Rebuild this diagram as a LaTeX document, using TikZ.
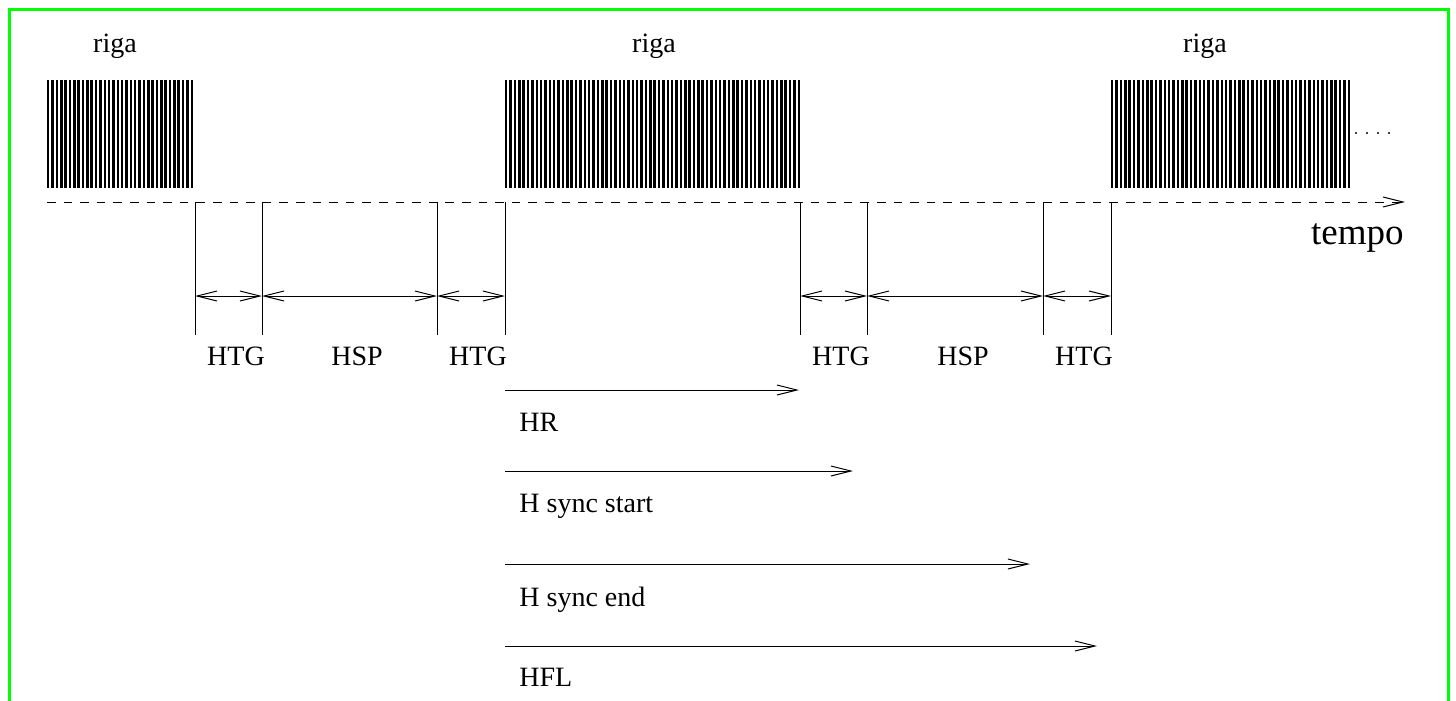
\documentclass[tikz,border=0pt]{standalone}
\usepackage{fontspec}
\setmainfont{Liberation Serif}
\usetikzlibrary{arrows.meta}
\definecolor{framegreen}{RGB}{0,255,0}

\begin{document}
\begin{tikzpicture}[x=0.5pt, y=-0.5pt,
    barb/.style={line width=0.5pt, arrows={-Straight Barb[length=10pt, width=5pt]}},
    dimline/.style={line width=0.5pt, arrows={Straight Barb[length=10pt, width=5pt]-Straight Barb[length=10pt, width=5pt]}},
    stripe/.style={line width=1.25pt},
    thinline/.style={line width=0.5pt},
    lbl/.style={font=\fontsize{14pt}{17pt}\selectfont, inner sep=0pt}]

    % Page size and green frame (open at the bottom)
    \useasboundingbox (0,0) rectangle (1456,701);
    \draw[framegreen, line width=1.25pt] (9.5,720) -- (9.5,9.5) -- (1448.5,9.5) -- (1448.5,720);

    % Lines of pixels: three striped blocks
    \foreach \xa/\xb/\n in {48.2/191.8/33, 506.2/798.8/67, 1112.2/1348.8/54}{
        \pgfmathsetmacro{\pitch}{(\xb-\xa)/\n}
        \foreach \i in {0,...,\n}
            \draw[stripe] ({\xa+\i*\pitch},80) -- ({\xa+\i*\pitch},188);
    }
    \foreach \x in {1356,1367,1378,1389}
        \fill (\x,133) circle (0.55pt);

    % Labels over the blocks
    \node[lbl, anchor=base] (riga1) at (115,53) {riga};
    \node[lbl, anchor=base] (riga2) at (654,53) {riga};
    \node[lbl, anchor=base] (riga3) at (1205,53) {riga};

    % Time axis
    \coordinate (ax0) at (47,202);
    \coordinate (ax1) at (1405,202);
    \draw[barb, dash pattern=on 4.3pt off 4pt] (ax0) -- (ax1);
    \node[anchor=base east, inner sep=0pt, font=\fontsize{18.5pt}{22pt}\selectfont] (tempo) at (1404,244) {tempo};

    % Marks on the axis and the intervals between them
    \foreach \x [count=\i] in {195,262,437,505,800,867,1043,1111}{
        \coordinate (v\i) at (\x,202);
        \coordinate (w\i) at (\x,335);
        \coordinate (m\i) at (\x,296);
        \draw[thinline] (v\i) -- (w\i);
    }
    \draw[dimline] (m1) -- (m2);
    \draw[dimline] (m2) -- (m3);
    \draw[dimline] (m3) -- (m4);
    \draw[dimline] (m5) -- (m6);
    \draw[dimline] (m6) -- (m7);
    \draw[dimline] (m7) -- (m8);

    \node[lbl, anchor=base] (htg1) at (236,365) {HTG};
    \node[lbl, anchor=base] (hsp1) at (357,365) {HSP};
    \node[lbl, anchor=base] (htg2) at (478,365) {HTG};
    \node[lbl, anchor=base] (htg3) at (841,365) {HTG};
    \node[lbl, anchor=base] (hsp2) at (963,365) {HSP};
    \node[lbl, anchor=base] (htg4) at (1084,365) {HTG};

    % Counters measured from the start of the line
    \foreach \y/\xe/\yt/\txt [count=\i] in {390/799/431/HR, 471/853/512/H sync start, 564/1030/606/H sync end, 646/1097/686/HFL}{
        \coordinate (s\i) at (505,\y);
        \coordinate (e\i) at (\xe,\y);
        \draw[barb] (s\i) -- (e\i);
        \node[lbl, anchor=base west] (c\i) at (519,\yt) {\txt};
    }
\end{tikzpicture}
\end{document}
